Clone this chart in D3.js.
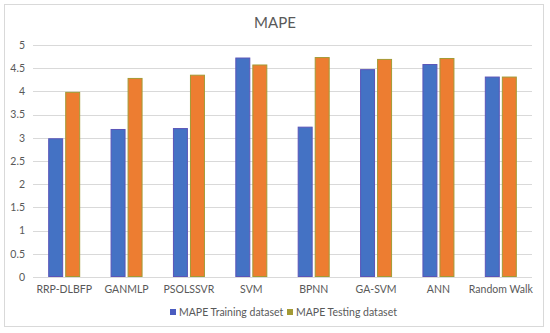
<!DOCTYPE html>
<html>
<head>
<meta charset="utf-8">
<script src="https://cdn.jsdelivr.net/npm/d3@7"></script>
<style>
  body { margin: 0; background: #fff; }
  text { font-family: Lato, "Open Sans", sans-serif; fill: #595959; }
</style>
</head>
<body>
<script>
  // data
  var categories = ["RRP-DLBFP", "GANMLP", "PSOLSSVR", "SVM", "BPNN", "GA-SVM", "ANN", "Random Walk"];
  var seriesNames = ["MAPE Training dataset", "MAPE Testing dataset"];
  var training = [2.99, 3.19, 3.21, 4.73, 3.24, 4.48, 4.59, 4.32];
  var testing = [3.99, 4.29, 4.36, 4.58, 4.74, 4.70, 4.72, 4.32];
  var yTicks = [0, 0.5, 1, 1.5, 2, 2.5, 3, 3.5, 4, 4.5, 5];

  var fills = ["#4472C4", "#ED7D31"];
  var strokes = ["#5a55b8", "#a39a35"];
  var swatch = ["#4a5cc0", "#a39a35"];

  var W = 550, H = 333;
  var margin = { top: 45, right: 18, bottom: 56, left: 33 };
  var width = W - margin.left - margin.right,
    height = H - margin.top - margin.bottom;

  var svg = d3.select("body").append("svg")
    .attr("width", W)
    .attr("height", H);

  // outer frame
  svg.append("rect")
    .attr("x", 4.5).attr("y", 4.5)
    .attr("width", 539).attr("height", 322)
    .attr("fill", "#fff")
    .attr("stroke", "#d9d9d9");

  svg.append("text")
    .attr("x", W / 2)
    .attr("y", 28)
    .attr("text-anchor", "middle")
    .style("font-size", "15px")
    .text("MAPE");

  var g = svg.append("g")
    .attr("transform", "translate(" + margin.left + "," + margin.top + ")");

  var x = d3.scaleBand()
    .domain(categories)
    .range([0, width]);

  var x1 = d3.scaleBand()
    .domain([0, 1])
    .range([0, 32])
    .paddingInner(0.12);

  var y = d3.scaleLinear()
    .domain([0, 5])
    .range([height, 0]);

  // grid
  g.append("g")
    .selectAll("line")
    .data(yTicks)
    .enter().append("line")
    .attr("x1", 0)
    .attr("x2", width)
    .attr("y1", function(d) { return Math.round(y(d)) + 0.5; })
    .attr("y2", function(d) { return Math.round(y(d)) + 0.5; })
    .attr("stroke", "#d9d9d9");

  var yAxis = d3.axisLeft(y).tickValues(yTicks).tickSize(0).tickPadding(8)
    .tickFormat(function(d) { return d; });
  var ya = g.append("g").call(yAxis);
  ya.select(".domain").remove();
  ya.selectAll("text").style("font-size", "10.5px").attr("fill", "#595959");

  var xAxis = d3.axisBottom(x).tickSize(0).tickPadding(9);
  var xa = g.append("g")
    .attr("transform", "translate(0," + height + ")")
    .call(xAxis);
  xa.select(".domain").remove();
  xa.selectAll("text").style("font-size", "10.5px").attr("fill", "#595959");

  var rows = categories.map(function(c, i) {
    return { cat: c, vals: [training[i], testing[i]] };
  });

  var groups = g.selectAll(".grp")
    .data(rows)
    .enter().append("g")
    .attr("class", "grp")
    .attr("transform", function(d) {
      return "translate(" + (x(d.cat) + x.bandwidth() / 2 - 16) + ",0)";
    });

  groups.selectAll("rect")
    .data(function(d) { return d.vals.map(function(v, k) { return { k: k, v: v }; }); })
    .enter().append("rect")
    .attr("x", function(d) { return x1(d.k) + 0.5; })
    .attr("y", function(d) { return y(d.v) + 0.5; })
    .attr("width", x1.bandwidth() - 1)
    .attr("height", function(d) { return height - y(d.v) - 1; })
    .attr("fill", function(d) { return fills[d.k]; })
    .attr("stroke", function(d) { return strokes[d.k]; })
    .attr("stroke-width", 1);

  // legend
  var legX = [170, 287];
  var leg = svg.append("g");
  seriesNames.forEach(function(name, k) {
    leg.append("rect")
      .attr("x", legX[k]).attr("y", 309)
      .attr("width", 6).attr("height", 6)
      .attr("fill", swatch[k]);
    leg.append("text")
      .attr("x", legX[k] + 9).attr("y", 315.5)
      .style("font-size", "10.5px")
      .text(name);
  });
</script>
</body>
</html>
